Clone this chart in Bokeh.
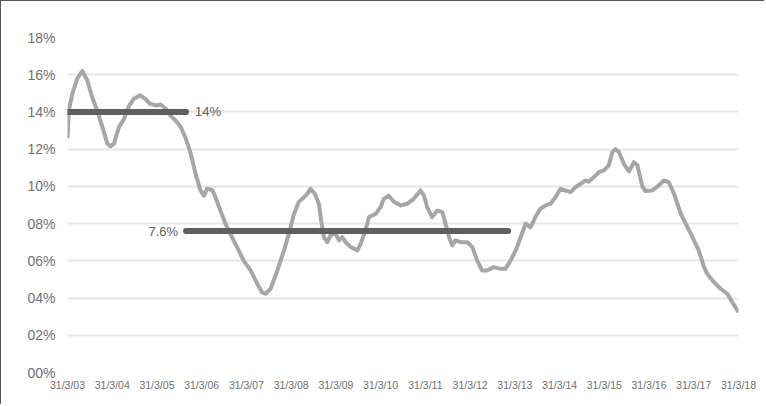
from bokeh.plotting import figure
from bokeh.models import Range1d, FixedTicker
from bokeh.core.properties import value
from bokeh.embed import file_html
from bokeh.resources import INLINE

# Time in decimal years (31/3/03 = 2003.25)
years = [2003.25, 2003.28, 2003.36, 2003.47, 2003.58, 2003.69, 2003.80, 2003.91, 2004.03, 2004.14,
         2004.21, 2004.29, 2004.40, 2004.51, 2004.62, 2004.73, 2004.87, 2004.99, 2005.09, 2005.22,
         2005.33, 2005.44, 2005.55, 2005.66, 2005.78, 2005.89, 2006.00, 2006.11, 2006.22, 2006.30,
         2006.37, 2006.49, 2006.56, 2006.67, 2006.78, 2006.89, 2007.04, 2007.19, 2007.34, 2007.49,
         2007.60, 2007.68, 2007.79, 2007.94, 2008.09, 2008.20, 2008.31, 2008.42, 2008.50, 2008.61,
         2008.68, 2008.78, 2008.87, 2008.92, 2008.98, 2009.06, 2009.13, 2009.24, 2009.32, 2009.39,
         2009.47, 2009.58, 2009.73, 2009.80, 2009.91, 2009.99, 2010.14, 2010.25, 2010.32, 2010.43,
         2010.55, 2010.70, 2010.85, 2010.99, 2011.14, 2011.22, 2011.29, 2011.40, 2011.52, 2011.63,
         2011.70, 2011.78, 2011.85, 2011.92, 2012.04, 2012.19, 2012.30, 2012.41, 2012.52, 2012.63,
         2012.78, 2012.93, 2013.04, 2013.15, 2013.27, 2013.38, 2013.49, 2013.60, 2013.71, 2013.82,
         2013.94, 2014.05, 2014.16, 2014.27, 2014.38, 2014.50, 2014.61, 2014.72, 2014.83, 2014.90,
         2015.02, 2015.13, 2015.24, 2015.35, 2015.43, 2015.50, 2015.58, 2015.69, 2015.80, 2015.91,
         2015.99, 2016.10, 2016.17, 2016.32, 2016.47, 2016.58, 2016.69, 2016.81, 2016.96, 2017.07,
         2017.22, 2017.36, 2017.48, 2017.55, 2017.70, 2017.85, 2018.00, 2018.11, 2018.25]

# Rolling return, %
returns = [12.58, 14.1, 15.0, 15.8, 16.2, 15.7, 14.8, 14.1, 13.2, 12.3,
           12.15, 12.3, 13.2, 13.6, 14.3, 14.7, 14.9, 14.7, 14.45, 14.35,
           14.4, 14.2, 13.8, 13.55, 13.2, 12.6, 11.8, 10.7, 9.8, 9.5,
           9.87, 9.8, 9.4, 8.7, 8.0, 7.45, 6.74, 6.0, 5.5, 4.77,
           4.3, 4.23, 4.5, 5.48, 6.56, 7.46, 8.5, 9.16, 9.33, 9.6,
           9.87, 9.6, 9.07, 8.17, 7.27, 7.0, 7.37, 7.46, 7.1, 7.27,
           7.0, 6.74, 6.56, 6.9, 7.63, 8.35, 8.53, 8.89, 9.33, 9.5,
           9.16, 8.98, 9.07, 9.33, 9.78, 9.5, 8.89, 8.35, 8.7, 8.62,
           8.0, 7.27, 6.83, 7.1, 7.0, 7.0, 6.74, 6.0, 5.48, 5.48,
           5.66, 5.57, 5.57, 6.0, 6.56, 7.27, 8.0, 7.8, 8.35, 8.8,
           8.98, 9.07, 9.43, 9.87, 9.78, 9.7, 9.97, 10.14, 10.32, 10.25,
           10.5, 10.77, 10.86, 11.13, 11.84, 12.0, 11.84, 11.2, 10.8, 11.3,
           11.13, 10.0, 9.75, 9.78, 10.05, 10.32, 10.23, 9.6, 8.53, 8.0,
           7.27, 6.56, 5.66, 5.3, 4.85, 4.5, 4.23, 3.78, 3.24]

# Period averages
mean_start = [2003.25, 2005.90]
mean_end = [2005.90, 2013.10]
mean_value = [14.0, 7.6]
mean_label = ["14%", "7.6%"]

x_tick_values = [2003.25 + i for i in range(16)]
x_tick_labels = ["31/3/%02d" % (3 + i) for i in range(16)]
y_tick_values = list(range(0, 19, 2))
y_tick_labels = ["%02d%%" % v for v in y_tick_values]

p = figure(width=764, height=404,
           x_range=Range1d(2003.25, 2018.25), y_range=Range1d(0, 18),
           output_backend="svg", toolbar_location=None,
           min_border_left=66, min_border_right=27,
           min_border_top=36, min_border_bottom=33)
p.styles = {"border-left": "1px solid #555555", "border-top": "1px solid #555555"}
p.outline_line_color = None
p.background_fill_color = "white"
p.border_fill_color = "white"

# grid
p.xgrid.grid_line_color = None
p.ygrid.grid_line_color = "#e6e6e6"
p.ygrid.grid_line_width = 2
p.ygrid.ticker = FixedTicker(ticks=y_tick_values)

# axes
for ax in (p.xaxis[0], p.yaxis[0]):
    ax.axis_line_color = None
    ax.major_tick_line_color = None
    ax.minor_tick_line_color = None
    ax.major_tick_in = 0
    ax.major_tick_out = 0
    ax.minor_tick_in = 0
    ax.minor_tick_out = 0
    ax.major_label_text_font = "Liberation Sans"
    ax.major_label_text_color = "#707070"

p.yaxis.ticker = FixedTicker(ticks=y_tick_values)
p.yaxis.major_label_overrides = {v: l for v, l in zip(y_tick_values, y_tick_labels)}
p.yaxis.major_label_standoff = 12
p.yaxis.major_label_text_font_size = "14px"

p.xaxis.ticker = FixedTicker(ticks=x_tick_values)
p.xaxis.major_label_overrides = {v: l for v, l in zip(x_tick_values, x_tick_labels)}
p.xaxis.major_label_standoff = 6
p.xaxis.major_label_text_font_size = "10.5px"

# data line
p.line(years, returns, line_color="#a6a6a6", line_width=4, line_join="round")

# average lines
p.segment(x0=mean_start, y0=mean_value, x1=mean_end, y1=mean_value,
          line_color="#5f5f5f", line_width=6, line_cap="round")

p.text(x=[mean_end[0]], y=[mean_value[0]], text=[mean_label[0]],
       x_offset=9, text_align="left", text_baseline="middle",
       text_font=value("Liberation Sans"), text_font_size=value("13px"),
       text_color="#606060")
p.text(x=[mean_start[1]], y=[mean_value[1]], text=[mean_label[1]],
       x_offset=-8, text_align="right", text_baseline="middle",
       text_font=value("Liberation Sans"), text_font_size=value("13px"),
       text_color="#606060")

open("out.html", "w").write(file_html(p, INLINE))
